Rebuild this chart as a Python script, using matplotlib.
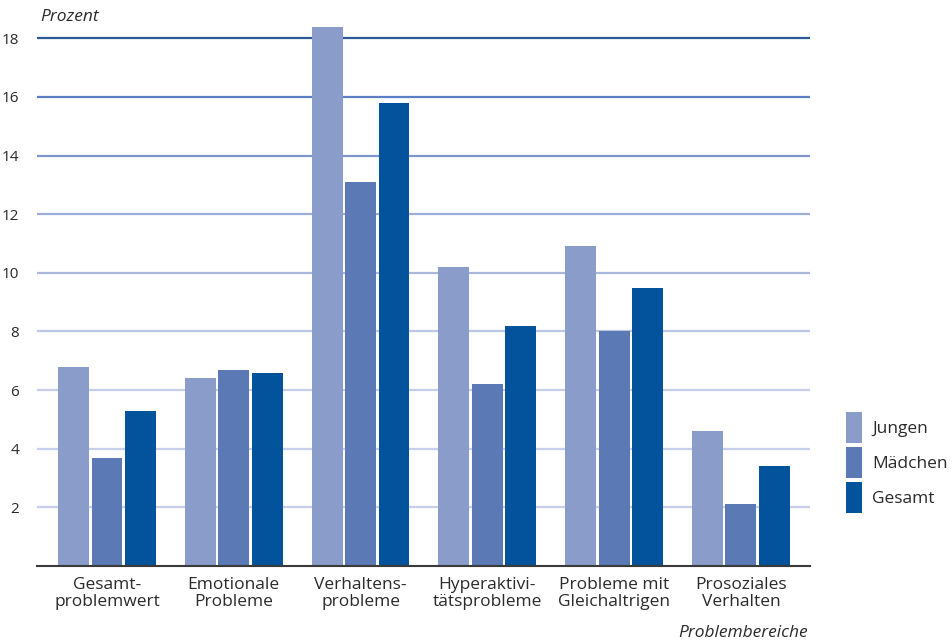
import matplotlib
matplotlib.use("Agg")
import matplotlib.pyplot as plt
import numpy as np

plt.rcParams["font.family"] = ["Open Sans", "DejaVu Sans"]

categories = ["Gesamt-\nproblemwert", "Emotionale\nProbleme", "Verhaltens-\nprobleme",
              "Hyperaktivi-\ntätsprobleme", "Probleme mit\nGleichaltrigen", "Prosoziales\nVerhalten"]
series_names = ["Jungen", "Mädchen", "Gesamt"]
jungen = [6.8, 6.4, 18.4, 10.2, 10.9, 4.6]
maedchen = [3.7, 6.7, 13.1, 6.2, 8.0, 2.1]
gesamt = [5.3, 6.6, 15.8, 8.2, 9.5, 3.4]
yticks = [2, 4, 6, 8, 10, 12, 14, 16, 18]

colors = ["#8a9cc9", "#5b7ab5", "#03529c"]
grid_colors = ["#c6cfeb", "#c6cfeb", "#c4cdea", "#bcc6e6", "#a9b7de",
               "#9eaedb", "#7f97cc", "#5b7fc4", "#2c5a98"]
fs = 12.5
txt = "#2a2a2a"

fig = plt.figure(figsize=(9.53, 6.43), dpi=100)
ax = fig.add_axes([37 / 953, 1 - 566 / 643, (810 - 37) / 953, (566 - 9) / 643])

x = np.arange(len(categories))
step = 0.264
width = 0.244
for i, (vals, name) in enumerate(zip([jungen, maedchen, gesamt], series_names)):
    ax.bar(x + (i - 1) * step, vals, width=width, color=colors[i], label=name, zorder=3)

for yv, gc in zip(yticks, grid_colors):
    ax.axhline(yv, color=gc, lw=1.6, zorder=1)

ax.set_xlim(-0.552, 5.545)
ax.set_ylim(0, 19)
ax.set_yticks(yticks)
ax.set_yticklabels([str(v) for v in yticks], fontsize=11, color=txt)
ax.set_xticks(x)
ax.set_xticklabels(categories, fontsize=fs, color=txt, linespacing=1.05)
ax.tick_params(axis="y", length=0, pad=13)
ax.tick_params(axis="x", length=0, pad=8)
for s in ["top", "right", "left"]:
    ax.spines[s].set_visible(False)
ax.spines["bottom"].set_color("#3a3a3a")
ax.spines["bottom"].set_linewidth(1.5)
ax.spines["bottom"].set_zorder(4)

fig.text(40 / 953, 1 - 17 / 643, "Prozent", fontsize=fs, style="italic",
         color=txt, ha="left", va="center")
fig.text(808 / 953, 1 - 633 / 643, "Problembereiche", fontsize=fs, style="italic",
         color=txt, ha="right", va="center")

leg = fig.legend(loc="upper left", bbox_to_anchor=(846 / 953, 1 - 412 / 643),
                 frameon=False, fontsize=fs, handlelength=0.95, handleheight=2.35,
                 handletextpad=0.55, labelspacing=0.25, borderaxespad=0, borderpad=0)
for t in leg.get_texts():
    t.set_color(txt)

fig.savefig("out.png", dpi=100)
